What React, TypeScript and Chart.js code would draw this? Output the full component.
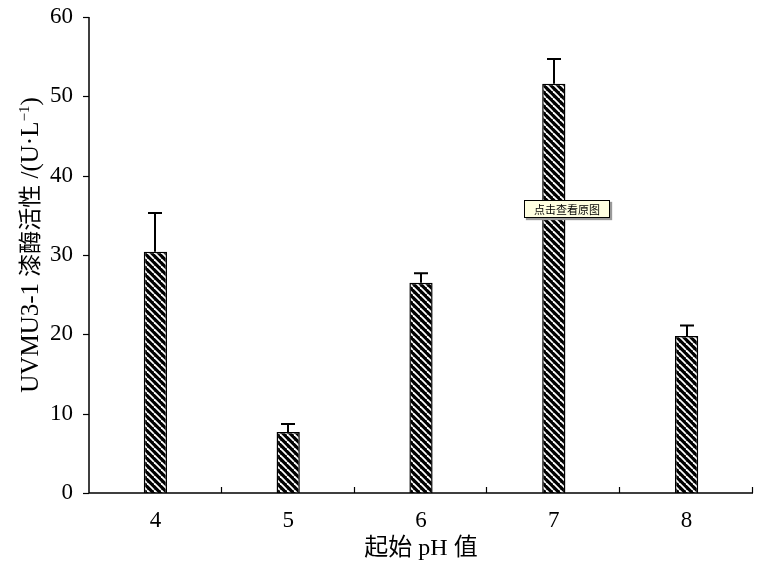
import React, { useEffect, useRef } from "react";
import { Chart, registerables } from "chart.js";

Chart.register(...registerables);

const categories = ["4", "5", "6", "7", "8"];
const values = [30.4, 7.7, 26.5, 51.6, 19.8];
const errors = [4.9, 1.0, 1.2, 3.1, 1.3];
const yTicks = [0, 10, 20, 30, 40, 50, 60];
const yTitleParts = [
  { text: "UVMU3-1 ", kind: "latin" },
  { text: "漆酶活性", kind: "cjk" },
  { text: " /(U·L", kind: "latin" },
  { text: "−1", kind: "sup" },
  { text: ")", kind: "latin" },
];

const SERIF = "'Liberation Serif', 'Times New Roman', 'Noto Sans CJK SC', serif";

function makePattern(): CanvasPattern | string {
  const s = 7;
  const c = document.createElement("canvas");
  c.width = s;
  c.height = s;
  const ctx = c.getContext("2d");
  if (!ctx) return "#000";
  ctx.fillStyle = "#000";
  ctx.fillRect(0, 0, s, s);
  ctx.strokeStyle = "#fff";
  ctx.lineWidth = 1.8;
  for (const o of [-s, 0, s]) {
    ctx.beginPath();
    ctx.moveTo(o, 0);
    ctx.lineTo(o + s, s);
    ctx.stroke();
  }
  const p = ctx.createPattern(c, "repeat");
  return p || "#000";
}

function partFont(kind: string) {
  if (kind === "cjk") return "23px 'Noto Sans CJK SC', sans-serif";
  if (kind === "sup") return "15px 'Liberation Serif', serif";
  return "25px 'Liberation Serif', serif";
}

const axesPlugin = {
  id: "customAxes",
  afterDraw(chart: any) {
    const { ctx, chartArea, scales } = chart;
    const y = scales.y;
    ctx.save();
    ctx.strokeStyle = "#000";
    ctx.lineWidth = 1.5;
    ctx.beginPath();
    ctx.moveTo(chartArea.left, chartArea.top);
    ctx.lineTo(chartArea.left, chartArea.bottom);
    ctx.lineTo(chartArea.right, chartArea.bottom);
    ctx.stroke();
    ctx.lineWidth = 1.2;
    for (const v of yTicks) {
      const py = Math.round(y.getPixelForValue(v)) + 0.5;
      ctx.beginPath();
      ctx.moveTo(chartArea.left - 6, py);
      ctx.lineTo(chartArea.left, py);
      ctx.stroke();
    }
    const n = categories.length;
    const w = (chartArea.right - chartArea.left) / n;
    for (let i = 1; i <= n; i++) {
      const px = Math.round(chartArea.left + i * w) - 0.5;
      ctx.beginPath();
      ctx.moveTo(px, chartArea.bottom);
      ctx.lineTo(px, chartArea.bottom - 6);
      ctx.stroke();
    }
    // rotated y title
    let total = 0;
    const widths = yTitleParts.map((p) => {
      ctx.font = partFont(p.kind);
      const wd = ctx.measureText(p.text).width;
      total += wd;
      return wd;
    });
    ctx.translate(38, 245);
    ctx.rotate(-Math.PI / 2);
    ctx.fillStyle = "#000";
    ctx.textBaseline = "alphabetic";
    ctx.textAlign = "left";
    let cx = -total / 2;
    yTitleParts.forEach((p, i) => {
      ctx.font = partFont(p.kind);
      ctx.fillText(p.text, cx, p.kind === "sup" ? -9 : 0);
      cx += widths[i];
    });
    ctx.restore();
  },
};

const errorPlugin = {
  id: "errorBars",
  afterDatasetsDraw(chart: any) {
    const { ctx, scales } = chart;
    const meta = chart.getDatasetMeta(0);
    ctx.save();
    ctx.strokeStyle = "#000";
    ctx.lineWidth = 2;
    meta.data.forEach((bar: any, i: number) => {
      const top = scales.y.getPixelForValue(values[i] + errors[i]);
      const base = scales.y.getPixelForValue(values[i]);
      const bx = Math.round(bar.x);
      ctx.beginPath();
      ctx.moveTo(bx, base);
      ctx.lineTo(bx, top);
      ctx.moveTo(bx - 7, top);
      ctx.lineTo(bx + 7, top);
      ctx.stroke();
    });
    ctx.restore();
  },
};

export default function App() {
  const ref = useRef<HTMLCanvasElement>(null);
  useEffect(() => {
    document.body.style.margin = "0";
    if (!ref.current) return;
    const chart = new Chart(ref.current, {
      type: "bar",
      data: {
        labels: categories,
        datasets: [
          {
            data: values,
            backgroundColor: makePattern() as any,
            borderColor: "#000",
            borderWidth: 1.5,
            barPercentage: 0.175,
            categoryPercentage: 1,
          },
        ],
      },
      options: {
        animation: false,
        responsive: false,
        maintainAspectRatio: false,
        layout: { padding: { top: 17, right: 9, left: 0, bottom: 0 } },
        plugins: { legend: { display: false }, tooltip: { enabled: false } },
        scales: {
          x: {
            grid: { display: false },
            border: { display: false },
            ticks: {
              color: "#000",
              font: { family: SERIF, size: 23 },
              padding: 6,
            },
            title: {
              display: true,
              text: "起始 pH 值",
              color: "#000",
              font: { family: SERIF, size: 24 },
              padding: { top: 0, bottom: 1 },
            },
            afterFit(scale: any) {
              scale.height = 71;
              scale.paddingLeft = 0;
              scale.paddingRight = 0;
            },
          },
          y: {
            min: 0,
            max: 60,
            grid: { display: false },
            border: { display: false },
            ticks: {
              stepSize: 10,
              color: "#000",
              font: { family: SERIF, size: 23 },
              padding: 8,
            },
            title: { display: false },
            afterFit(scale: any) {
              scale.width = 89;
              scale.paddingTop = 0;
              scale.paddingBottom = 0;
            },
          },
        },
      },
      plugins: [axesPlugin, errorPlugin],
    });
    return () => chart.destroy();
  }, []);
  return (
    <div style={{ position: "relative", width: 762, height: 564 }}>
      <canvas ref={ref} width={762} height={564} />
      <div
        style={{
          position: "absolute",
          left: 524,
          top: 200,
          width: 84,
          height: 16,
          background: "#ffffe1",
          border: "1px solid #000",
          boxShadow: "2px 2px 1px #999",
          fontFamily: "'Noto Sans CJK SC', sans-serif",
          fontSize: 11,
          lineHeight: "16px",
          textAlign: "center",
          color: "#000",
        }}
      >
        点击查看原图
      </div>
    </div>
  );
}
